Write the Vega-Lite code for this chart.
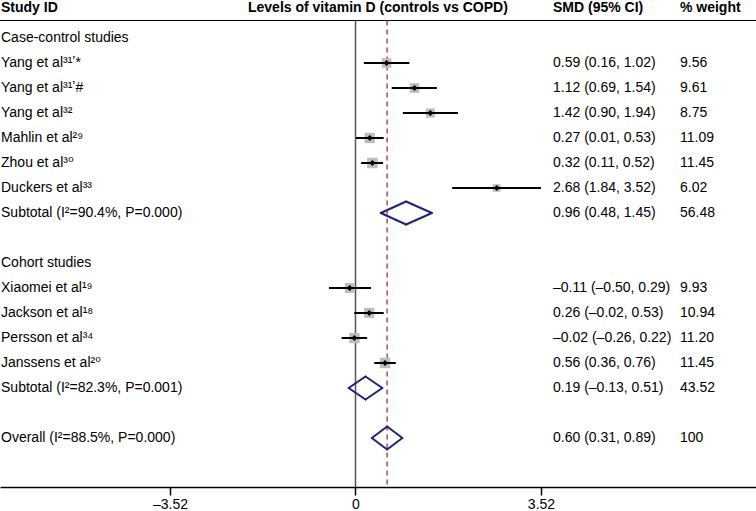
{
  "$schema": "https://vega.github.io/schema/vega-lite/v6.json",
  "width": 756,
  "height": 487,
  "autosize": {"type": "none"},
  "padding": {"left": 0, "top": 0, "right": 0, "bottom": 24},
  "background": "white",
  "config": {
    "view": {"stroke": null},
    "font": "Liberation Sans",
    "text": {"font": "'Liberation Sans', 'DejaVu Sans', sans-serif", "fontSize": 14, "color": "black"}
  },
  "datasets": {
    "rows": [
      {"row": 0, "label": "Case-control studies", "type": "group"},
      {"row": 1, "label": "Yang et al³¹ʼ*", "type": "study", "es": 0.59, "lo": 0.16, "hi": 1.02, "ci": "0.59 (0.16, 1.02)", "w": "9.56", "wt": 9.56},
      {"row": 2, "label": "Yang et al³¹ʼ#", "type": "study", "es": 1.12, "lo": 0.69, "hi": 1.54, "ci": "1.12 (0.69, 1.54)", "w": "9.61", "wt": 9.61},
      {"row": 3, "label": "Yang et al³²", "type": "study", "es": 1.42, "lo": 0.90, "hi": 1.94, "ci": "1.42 (0.90, 1.94)", "w": "8.75", "wt": 8.75},
      {"row": 4, "label": "Mahlin et al²⁹", "type": "study", "es": 0.27, "lo": 0.01, "hi": 0.53, "ci": "0.27 (0.01, 0.53)", "w": "11.09", "wt": 11.09},
      {"row": 5, "label": "Zhou et al³⁰", "type": "study", "es": 0.32, "lo": 0.11, "hi": 0.52, "ci": "0.32 (0.11, 0.52)", "w": "11.45", "wt": 11.45},
      {"row": 6, "label": "Duckers et al³³", "type": "study", "es": 2.68, "lo": 1.84, "hi": 3.52, "ci": "2.68 (1.84, 3.52)", "w": "6.02", "wt": 6.02},
      {"row": 7, "label": "Subtotal (I²=90.4%, P=0.000)", "type": "subtotal", "es": 0.96, "lo": 0.48, "hi": 1.45, "ci": "0.96 (0.48, 1.45)", "w": "56.48", "wt": 56.48},
      {"row": 9, "label": "Cohort studies", "type": "group"},
      {"row": 10, "label": "Xiaomei et al¹⁹", "type": "study", "es": -0.11, "lo": -0.50, "hi": 0.29, "ci": "–0.11 (–0.50, 0.29)", "w": "9.93", "wt": 9.93},
      {"row": 11, "label": "Jackson et al¹⁸", "type": "study", "es": 0.26, "lo": -0.02, "hi": 0.53, "ci": "0.26 (–0.02, 0.53)", "w": "10.94", "wt": 10.94},
      {"row": 12, "label": "Persson et al³⁴", "type": "study", "es": -0.02, "lo": -0.26, "hi": 0.22, "ci": "–0.02 (–0.26, 0.22)", "w": "11.20", "wt": 11.20},
      {"row": 13, "label": "Janssens et al²⁰", "type": "study", "es": 0.56, "lo": 0.36, "hi": 0.76, "ci": "0.56 (0.36, 0.76)", "w": "11.45", "wt": 11.45},
      {"row": 14, "label": "Subtotal (I²=82.3%, P=0.001)", "type": "subtotal", "es": 0.19, "lo": -0.13, "hi": 0.51, "ci": "0.19 (–0.13, 0.51)", "w": "43.52", "wt": 43.52},
      {"row": 16, "label": "Overall (I²=88.5%, P=0.000)", "type": "overall", "es": 0.60, "lo": 0.31, "hi": 0.89, "ci": "0.60 (0.31, 0.89)", "w": "100", "wt": 100}
    ],
    "headers": [
      {"col": "study", "h": "Study ID"},
      {"col": "effect", "h": "Levels of vitamin D (controls vs COPD)"},
      {"col": "ci", "h": "SMD (95% CI)"},
      {"col": "w", "h": "% weight"}
    ]
  },
  "data": {"name": "rows"},
  "layer": [
    {
      "transform": [{"filter": "datum.type === 'study'"}],
      "mark": {"type": "rule", "color": "black", "strokeWidth": 2},
      "encoding": {
        "x": {"field": "lo", "type": "quantitative", "scale": {"domain": [-6.746, 7.6], "nice": false, "zero": false},
          "axis": {"values": [-3.52, 0, 3.52], "title": null, "grid": false, "domain": true, "domainColor": "black", "domainWidth": 1.5,
            "ticks": true, "tickColor": "black", "tickWidth": 1.5, "tickSize": 8, "labelFont": "Liberation Sans", "labelFontSize": 14,
            "labelColor": "black", "labelPadding": 2, "labelFlush": false, "labelOverlap": false,
            "labelExpr": "datum.value == 0 ? '0' : (datum.value < 0 ? '–' : '') + format(abs(datum.value), '.2f')"}},
        "x2": {"field": "hi"},
        "y": {"field": "row", "type": "quantitative", "scale": {"domain": [-1.52, 17.96], "nice": false, "zero": false, "reverse": true}, "axis": null}
      }
    },
    {
      "data": {"values": [{}]},
      "mark": {"type": "rule", "color": "black", "strokeWidth": 1},
      "encoding": {
        "y": {"datum": -0.7, "type": "quantitative", "scale": {"domain": [-1.52, 17.96], "nice": false, "zero": false, "reverse": true}, "axis": null}
      }
    },
    {
      "data": {"values": [{}]},
      "mark": {"type": "rule", "color": "#555555", "strokeWidth": 1.5},
      "encoding": {
        "x": {"datum": 0, "type": "quantitative", "scale": {"domain": [-6.746, 7.6], "nice": false, "zero": false}},
        "y": {"datum": -0.7, "type": "quantitative", "scale": {"domain": [-1.52, 17.96], "nice": false, "zero": false, "reverse": true}, "axis": null},
        "y2": {"datum": 17.96}
      }
    },
    {
      "transform": [{"filter": "datum.type === 'overall'"}],
      "mark": {"type": "rule", "color": "#a33040", "strokeWidth": 1.3, "strokeDash": [5, 4]},
      "encoding": {
        "x": {"field": "es", "type": "quantitative", "scale": {"domain": [-6.746, 7.6], "nice": false, "zero": false}},
        "y": {"datum": -0.7, "type": "quantitative", "scale": {"domain": [-1.52, 17.96], "nice": false, "zero": false, "reverse": true}, "axis": null},
        "y2": {"datum": 17.96}
      }
    },
    {
      "transform": [{"filter": "datum.type === 'study'"}],
      "mark": {"type": "point", "shape": "square", "filled": true, "color": "#bdbdbd", "opacity": 1},
      "encoding": {
        "x": {"field": "es", "type": "quantitative", "scale": {"domain": [-6.746, 7.6], "nice": false, "zero": false}},
        "y": {"field": "row", "type": "quantitative", "scale": {"domain": [-1.52, 17.96], "nice": false, "zero": false, "reverse": true}, "axis": null},
        "size": {"field": "wt", "type": "quantitative", "scale": {"domain": [0, 12], "range": [0, 115]}, "legend": null}
      }
    },
    {
      "transform": [{"filter": "datum.type === 'study'"}],
      "mark": {"type": "rule", "color": "black", "strokeWidth": 2},
      "encoding": {
        "x": {"field": "lo", "type": "quantitative", "scale": {"domain": [-6.746, 7.6], "nice": false, "zero": false}},
        "x2": {"field": "hi"},
        "y": {"field": "row", "type": "quantitative", "scale": {"domain": [-1.52, 17.96], "nice": false, "zero": false, "reverse": true}, "axis": null}
      }
    },
    {
      "transform": [{"filter": "datum.type === 'study'"}],
      "mark": {"type": "point", "shape": "diamond", "filled": true, "color": "black", "opacity": 1, "size": 36},
      "encoding": {
        "x": {"field": "es", "type": "quantitative", "scale": {"domain": [-6.746, 7.6], "nice": false, "zero": false}},
        "y": {"field": "row", "type": "quantitative", "scale": {"domain": [-1.52, 17.96], "nice": false, "zero": false, "reverse": true}, "axis": null}
      }
    },
    {
      "transform": [{"filter": "datum.type === 'subtotal' || datum.type === 'overall'"}],
      "mark": {"type": "rule", "color": "#1f2378", "strokeWidth": 2, "strokeCap": "round", "y2Offset": -11.5},
      "encoding": {
        "x": {"field": "lo", "type": "quantitative", "scale": {"domain": [-6.746, 7.6], "nice": false, "zero": false}},
        "x2": {"field": "es"},
        "y": {"field": "row", "type": "quantitative", "scale": {"domain": [-1.52, 17.96], "nice": false, "zero": false, "reverse": true}, "axis": null},
        "y2": {"field": "row"}
      }
    },
    {
      "transform": [{"filter": "datum.type === 'subtotal' || datum.type === 'overall'"}],
      "mark": {"type": "rule", "color": "#1f2378", "strokeWidth": 2, "strokeCap": "round", "yOffset": -11.5},
      "encoding": {
        "x": {"field": "es", "type": "quantitative", "scale": {"domain": [-6.746, 7.6], "nice": false, "zero": false}},
        "x2": {"field": "hi"},
        "y": {"field": "row", "type": "quantitative", "scale": {"domain": [-1.52, 17.96], "nice": false, "zero": false, "reverse": true}, "axis": null},
        "y2": {"field": "row"}
      }
    },
    {
      "transform": [{"filter": "datum.type === 'subtotal' || datum.type === 'overall'"}],
      "mark": {"type": "rule", "color": "#1f2378", "strokeWidth": 2, "strokeCap": "round", "y2Offset": 11.5},
      "encoding": {
        "x": {"field": "hi", "type": "quantitative", "scale": {"domain": [-6.746, 7.6], "nice": false, "zero": false}},
        "x2": {"field": "es"},
        "y": {"field": "row", "type": "quantitative", "scale": {"domain": [-1.52, 17.96], "nice": false, "zero": false, "reverse": true}, "axis": null},
        "y2": {"field": "row"}
      }
    },
    {
      "transform": [{"filter": "datum.type === 'subtotal' || datum.type === 'overall'"}],
      "mark": {"type": "rule", "color": "#1f2378", "strokeWidth": 2, "strokeCap": "round", "yOffset": 11.5},
      "encoding": {
        "x": {"field": "es", "type": "quantitative", "scale": {"domain": [-6.746, 7.6], "nice": false, "zero": false}},
        "x2": {"field": "lo"},
        "y": {"field": "row", "type": "quantitative", "scale": {"domain": [-1.52, 17.96], "nice": false, "zero": false, "reverse": true}, "axis": null},
        "y2": {"field": "row"}
      }
    },
    {
      "mark": {"type": "text", "align": "left", "baseline": "middle"},
      "encoding": {
        "x": {"datum": -6.727, "type": "quantitative", "scale": {"domain": [-6.746, 7.6], "nice": false, "zero": false}},
        "y": {"field": "row", "type": "quantitative", "scale": {"domain": [-1.52, 17.96], "nice": false, "zero": false, "reverse": true}, "axis": null},
        "text": {"field": "label"}
      }
    },
    {
      "transform": [{"filter": "datum.type !== 'group'"}],
      "mark": {"type": "text", "align": "left", "baseline": "middle"},
      "encoding": {
        "x": {"datum": 3.748, "type": "quantitative", "scale": {"domain": [-6.746, 7.6], "nice": false, "zero": false}},
        "y": {"field": "row", "type": "quantitative", "scale": {"domain": [-1.52, 17.96], "nice": false, "zero": false, "reverse": true}, "axis": null},
        "text": {"field": "ci"}
      }
    },
    {
      "transform": [{"filter": "datum.type !== 'group'"}],
      "mark": {"type": "text", "align": "left", "baseline": "middle"},
      "encoding": {
        "x": {"datum": 6.157, "type": "quantitative", "scale": {"domain": [-6.746, 7.6], "nice": false, "zero": false}},
        "y": {"field": "row", "type": "quantitative", "scale": {"domain": [-1.52, 17.96], "nice": false, "zero": false, "reverse": true}, "axis": null},
        "text": {"field": "w"}
      }
    },
    {
      "data": {"name": "headers"},
      "transform": [{"filter": "datum.col === 'study'"}],
      "mark": {"type": "text", "align": "left", "baseline": "middle", "fontWeight": "bold"},
      "encoding": {
        "x": {"datum": -6.727, "type": "quantitative", "scale": {"domain": [-6.746, 7.6], "nice": false, "zero": false}},
        "y": {"datum": -1.2, "type": "quantitative", "scale": {"domain": [-1.52, 17.96], "nice": false, "zero": false, "reverse": true}, "axis": null},
        "text": {"field": "h"}
      }
    },
    {
      "data": {"name": "headers"},
      "transform": [{"filter": "datum.col === 'effect'"}],
      "mark": {"type": "text", "align": "left", "baseline": "middle", "fontWeight": "bold"},
      "encoding": {
        "x": {"datum": -2.04, "type": "quantitative", "scale": {"domain": [-6.746, 7.6], "nice": false, "zero": false}},
        "y": {"datum": -1.2, "type": "quantitative", "scale": {"domain": [-1.52, 17.96], "nice": false, "zero": false, "reverse": true}, "axis": null},
        "text": {"field": "h"}
      }
    },
    {
      "data": {"name": "headers"},
      "transform": [{"filter": "datum.col === 'ci'"}],
      "mark": {"type": "text", "align": "left", "baseline": "middle", "fontWeight": "bold"},
      "encoding": {
        "x": {"datum": 3.748, "type": "quantitative", "scale": {"domain": [-6.746, 7.6], "nice": false, "zero": false}},
        "y": {"datum": -1.2, "type": "quantitative", "scale": {"domain": [-1.52, 17.96], "nice": false, "zero": false, "reverse": true}, "axis": null},
        "text": {"field": "h"}
      }
    },
    {
      "data": {"name": "headers"},
      "transform": [{"filter": "datum.col === 'w'"}],
      "mark": {"type": "text", "align": "left", "baseline": "middle", "fontWeight": "bold"},
      "encoding": {
        "x": {"datum": 6.157, "type": "quantitative", "scale": {"domain": [-6.746, 7.6], "nice": false, "zero": false}},
        "y": {"datum": -1.2, "type": "quantitative", "scale": {"domain": [-1.52, 17.96], "nice": false, "zero": false, "reverse": true}, "axis": null},
        "text": {"field": "h"}
      }
    }
  ]
}
